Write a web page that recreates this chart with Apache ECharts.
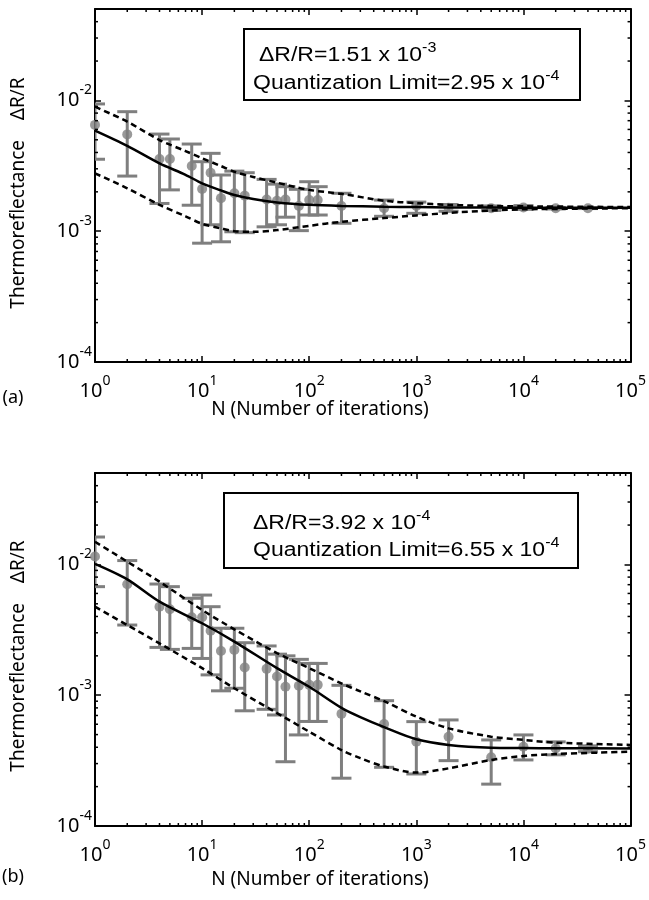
<!DOCTYPE html>
<html><head><meta charset="utf-8">
<script src="https://cdn.jsdelivr.net/npm/echarts@6/dist/echarts.min.js"></script>
<style>html,body{margin:0;padding:0;background:#fff}#c{width:649px;height:900px}</style>
</head><body><div id="c"></div>
<script>
// ---------- data ----------
const xTickExp = ['0', '1', '2', '3', '4', '5'];
const yTickExp = ['-4', '-3', '-2'];
const N = [1, 2, 4, 5, 8, 10, 12, 15, 20, 25, 40, 50, 60, 80, 100, 120, 200, 500, 1000, 2000, 5000, 10000, 20000, 40000];

const aMean = [6.5e-3, 5.5e-3, 3.57e-3, 3.57e-3, 3.15e-3, 2.10e-3, 2.80e-3, 1.79e-3, 1.95e-3, 1.87e-3, 1.75e-3, 1.71e-3, 1.75e-3, 1.56e-3, 1.73e-3, 1.73e-3, 1.56e-3, 1.50e-3, 1.56e-3, 1.51e-3, 1.50e-3, 1.52e-3, 1.50e-3, 1.50e-3];
const aHigh = [9.4e-3, 8.2e-3, 5.53e-3, 5.07e-3, 4.64e-3, 3.40e-3, 3.94e-3, 2.69e-3, 2.88e-3, 2.80e-3, 2.49e-3, 2.29e-3, 2.19e-3, 2.09e-3, 2.39e-3, 2.19e-3, 1.95e-3, 1.73e-3, 1.67e-3, 1.60e-3, 1.56e-3, 1.57e-3, 1.52e-3, 1.51e-3];
const aLow = [3.55e-3, 2.64e-3, 1.63e-3, 2.07e-3, 1.58e-3, 8.1e-4, 1.12e-3, 8.3e-4, 9.9e-4, 9.75e-4, 1.08e-3, 1.12e-3, 1.28e-3, 1.01e-3, 1.33e-3, 1.33e-3, 1.15e-3, 1.30e-3, 1.37e-3, 1.42e-3, 1.44e-3, 1.47e-3, 1.48e-3, 1.49e-3];

const bMean = [1.15e-2, 7.05e-3, 4.75e-3, 4.54e-3, 3.94e-3, 3.94e-3, 3.11e-3, 2.18e-3, 2.22e-3, 1.63e-3, 1.59e-3, 1.39e-3, 1.16e-3, 1.18e-3, 1.20e-3, 1.20e-3, 7.2e-4, 6.03e-4, 4.41e-4, 4.82e-4, 3.35e-4, 4.04e-4, 3.92e-4, 3.90e-4];
const bHigh = [1.62e-2, 1.07e-2, 7.08e-3, 6.76e-3, 5.51e-3, 5.83e-3, 4.75e-3, 3.25e-3, 3.25e-3, 2.52e-3, 2.38e-3, 2.06e-3, 2.0e-3, 1.88e-3, 1.75e-3, 1.75e-3, 1.19e-3, 9.08e-4, 6.28e-4, 6.47e-4, 4.55e-4, 4.97e-4, 4.4e-4, 4.1e-4];
const bLow = [6.76e-3, 3.44e-3, 2.32e-3, 2.24e-3, 2.28e-3, 1.91e-3, 1.43e-3, 1.08e-3, 1.13e-3, 7.6e-4, 7.8e-4, 7.06e-4, 3.1e-4, 4.97e-4, 6.3e-4, 6.3e-4, 2.32e-4, 2.81e-4, 2.5e-4, 3.16e-4, 2.09e-4, 3.2e-4, 3.5e-4, 3.7e-4];

const aCurveN = [1, 2, 4, 7, 10, 15, 20, 30, 50, 100, 200, 500, 1000, 2000, 5000, 10000, 100000];
const aFit   = [5.87e-3, 4.49e-3, 3.30e-3, 2.70e-3, 2.32e-3, 2.05e-3, 1.89e-3, 1.76e-3, 1.66e-3, 1.59e-3, 1.56e-3, 1.54e-3, 1.53e-3, 1.52e-3, 1.515e-3, 1.51e-3, 1.51e-3];
const aUpper = [8.95e-3, 6.88e-3, 4.98e-3, 4.10e-3, 3.61e-3, 3.15e-3, 2.85e-3, 2.60e-3, 2.35e-3, 2.07e-3, 1.93e-3, 1.71e-3, 1.64e-3, 1.59e-3, 1.56e-3, 1.55e-3, 1.53e-3];
const aLower = [2.77e-3, 2.13e-3, 1.59e-3, 1.30e-3, 1.14e-3, 1.05e-3, 1.00e-3, 0.99e-3, 1.02e-3, 1.10e-3, 1.18e-3, 1.26e-3, 1.32e-3, 1.38e-3, 1.44e-3, 1.47e-3, 1.50e-3];

const bCurveN = [1, 2, 4, 10, 20, 50, 100, 200, 300, 500, 1000, 2000, 5000, 10000, 20000, 100000];
const bFit   = [1.01e-2, 7.69e-3, 5.19e-3, 3.55e-3, 2.57e-3, 1.61e-3, 1.16e-3, 8.0e-4, 6.8e-4, 5.7e-4, 4.6e-4, 4.17e-4, 3.97e-4, 3.95e-4, 3.93e-4, 3.92e-4];
const bUpper = [1.49e-2, 1.05e-2, 7.38e-3, 4.48e-3, 3.19e-3, 2.10e-3, 1.61e-3, 1.23e-3, 1.07e-3, 9.0e-4, 6.86e-4, 5.58e-4, 4.82e-4, 4.55e-4, 4.34e-4, 4.17e-4];
const bLower = [4.75e-3, 3.44e-3, 2.49e-3, 1.61e-3, 1.13e-3, 7.3e-4, 5.26e-4, 3.81e-4, 3.3e-4, 2.85e-4, 2.56e-4, 2.76e-4, 3.2e-4, 3.43e-4, 3.55e-4, 3.7e-4];

const legendA = ['ΔR/R=1.51 x 10', '-3', 'Quantization Limit=2.95 x 10', '-4'];
const legendB = ['ΔR/R=3.92 x 10', '-4', 'Quantization Limit=6.55 x 10', '-4'];
const xTitle = 'N (Number of iterations)';
const yTitle = 'Thermoreflectance    ΔR/R';
const panelTags = ['(a)', '(b)'];

// ---------- layout / style ----------
const X_MIN = 1, X_MAX = 1e5, Y_MIN = 1e-4, Y_MAX = 0.05;
const GRAY = '#7f7f7f';
const TICK_FONT = 'Noto Sans';
const grids = [
  {left: 95, top: 9, width: 537, height: 353},
  {left: 95, top: 473, width: 537, height: 353}
];

const rich = {
  b: {fontSize: 20, lineHeight: 34, fontFamily: TICK_FONT, color: '#000'},
  s: {fontSize: 14, lineHeight: 14, verticalAlign: 'top', fontFamily: TICK_FONT, color: '#000'}
};
function fmtX(v) {
  const e = Math.log10(v), r = Math.round(e);
  if (Math.abs(e - r) > 0.01) return '';
  if (r < 0 || r >= xTickExp.length) return '';
  return '{b|10}{s|' + xTickExp[r] + '}';
}
function fmtY(v) {
  const e = Math.log10(v), r = Math.round(e);
  if (Math.abs(e - r) > 0.01) return '';
  const idx = r + 4;
  if (idx < 0 || idx >= yTickExp.length) return '';
  return '{b|10}{s|' + yTickExp[idx] + '}';
}

const axisLineStyle = {show: true, lineStyle: {color: '#000', width: 2}};
const tickStyle = {show: true, inside: true, length: 6, lineStyle: {color: '#000', width: 1.5}};

const xAxes = [], yAxes = [];
grids.forEach((g, gi) => {
  xAxes.push({type: 'log', logBase: 10, gridIndex: gi, min: X_MIN, max: X_MAX, position: 'bottom',
    axisLine: axisLineStyle, axisTick: tickStyle, splitLine: {show: false},
    axisLabel: {formatter: fmtX, rich: rich, margin: 12, showMaxLabel: true}});
  xAxes.push({type: 'log', logBase: 10, gridIndex: gi, min: X_MIN, max: X_MAX, position: 'top',
    axisLine: axisLineStyle, axisTick: tickStyle, splitLine: {show: false}, axisLabel: {show: false}});
  yAxes.push({type: 'log', logBase: 10, gridIndex: gi, min: Y_MIN, max: Y_MAX, position: 'left',
    axisLine: axisLineStyle, axisTick: tickStyle, splitLine: {show: false},
    axisLabel: {formatter: fmtY, rich: rich, margin: 3, showMaxLabel: false}});
  yAxes.push({type: 'log', logBase: 10, gridIndex: gi, min: Y_MIN, max: Y_MAX, position: 'right',
    axisLine: axisLineStyle, axisTick: tickStyle, splitLine: {show: false}, axisLabel: {show: false}});
});

// minor tick values (2..9 x 10^k)
const xMinor = [], yMinor = [];
for (let k = 0; k < 5; k++) for (let m = 2; m <= 9; m++) xMinor.push([m * Math.pow(10, k), Y_MIN]);
for (let k = -4; k < -1; k++) for (let m = 2; m <= 9; m++) { const v = m * Math.pow(10, k); if (v < Y_MAX) yMinor.push([X_MIN, v]); }

function errorBarSeries(gi, lo, hi) {
  return {
    type: 'custom', xAxisIndex: gi * 2, yAxisIndex: gi * 2, clip: true, z: 3,
    data: N.map((n, i) => [n, lo[i], hi[i]]),
    encode: {x: 0, y: [1, 2]},
    renderItem: (params, api) => {
      const pl = api.coord([api.value(0), api.value(1)]);
      const ph = api.coord([api.value(0), api.value(2)]);
      const st = {stroke: GRAY, lineWidth: 3};
      const w = 10;
      return {type: 'group', children: [
        {type: 'line', shape: {x1: pl[0], y1: pl[1], x2: ph[0], y2: ph[1]}, style: st},
        {type: 'line', shape: {x1: pl[0] - w, y1: pl[1], x2: pl[0] + w, y2: pl[1]}, style: st},
        {type: 'line', shape: {x1: ph[0] - w, y1: ph[1], x2: ph[0] + w, y2: ph[1]}, style: st}
      ]};
    }
  };
}
function dotSeries(gi, mean) {
  return {type: 'scatter', xAxisIndex: gi * 2, yAxisIndex: gi * 2, symbol: 'circle', symbolSize: 10, z: 4,
    itemStyle: {color: GRAY}, data: N.map((n, i) => [n, mean[i]])};
}
function curveSeries(gi, xs, ys, dashed) {
  return {type: 'line', xAxisIndex: gi * 2, yAxisIndex: gi * 2, smooth: 0.3,
    showSymbol: false, z: 5, clip: true,
    lineStyle: {color: '#000', width: 2.5, type: dashed ? [6, 4] : 'solid'},
    data: xs.map((n, i) => [n, ys[i]])};
}
function minorTickSeries(gi) {
  const st = {stroke: '#000', lineWidth: 1.5};
  return [
    {type: 'custom', xAxisIndex: gi * 2, yAxisIndex: gi * 2, z: 6, clip: false, silent: true,
      data: xMinor, encode: {x: 0, y: 1},
      renderItem: (p, api) => {
        const a = api.coord([api.value(0), Y_MIN]), b = api.coord([api.value(0), Y_MAX]);
        return {type: 'group', children: [
          {type: 'line', shape: {x1: a[0], y1: a[1], x2: a[0], y2: a[1] - 3}, style: st},
          {type: 'line', shape: {x1: b[0], y1: b[1], x2: b[0], y2: b[1] + 3}, style: st}]};
      }},
    {type: 'custom', xAxisIndex: gi * 2, yAxisIndex: gi * 2, z: 6, clip: false, silent: true,
      data: yMinor, encode: {x: 0, y: 1},
      renderItem: (p, api) => {
        const a = api.coord([X_MIN, api.value(1)]), b = api.coord([X_MAX, api.value(1)]);
        return {type: 'group', children: [
          {type: 'line', shape: {x1: a[0], y1: a[1], x2: a[0] + 3, y2: a[1]}, style: st},
          {type: 'line', shape: {x1: b[0], y1: b[1], x2: b[0] - 3, y2: b[1]}, style: st}]};
      }}
  ];
}

const series = [];
[[aMean, aLow, aHigh, aCurveN, aFit, aUpper, aLower], [bMean, bLow, bHigh, bCurveN, bFit, bUpper, bLower]].forEach((d, gi) => {
  series.push(errorBarSeries(gi, d[1], d[2]));
  series.push(dotSeries(gi, d[0]));
  series.push(curveSeries(gi, d[3], d[4], false));
  series.push(curveSeries(gi, d[3], d[5], true));
  series.push(curveSeries(gi, d[3], d[6], true));
  minorTickSeries(gi).forEach(s => series.push(s));
});

const legRich = {
  a: {fontSize: 20, lineHeight: 28, fontFamily: 'Liberation Sans', color: '#000'},
  s: {fontSize: 14, lineHeight: 14, verticalAlign: 'top', fontFamily: 'Liberation Sans', color: '#000'}
};
function legendGroup(lg, box, l1x, l2x, l1y, l2y) {
  return [
    {type: 'rect', shape: box, style: {fill: '#fff', stroke: '#000', lineWidth: 2}, z: 10},
    {type: 'text', x: l1x, y: l1y, scaleX: 1.15, z: 11,
      style: {text: '{a|' + lg[0] + '}{s|' + lg[1] + '}', rich: legRich, verticalAlign: 'middle', align: 'left'}},
    {type: 'text', x: l2x, y: l2y, scaleX: 1.15, z: 11,
      style: {text: '{a|' + lg[2] + '}{s|' + lg[3] + '}', rich: legRich, verticalAlign: 'middle', align: 'left'}}
  ];
}
const titleFont = '19px "Noto Sans"';
const graphics = [].concat(
  legendGroup(legendA, {x: 244, y: 29, width: 336, height: 71}, 259, 253, 55, 83),
  legendGroup(legendB, {x: 224, y: 493, width: 354, height: 75}, 253, 253, 523, 550),
  [
    {type: 'text', x: 320, y: 410, style: {text: xTitle, font: titleFont, fill: '#000', align: 'center', verticalAlign: 'middle'}},
    {type: 'text', x: 320, y: 880, style: {text: xTitle, font: titleFont, fill: '#000', align: 'center', verticalAlign: 'middle'}},
    {type: 'text', x: 19, y: 193, rotation: Math.PI / 2, style: {text: yTitle, font: titleFont, fill: '#000', align: 'center', verticalAlign: 'middle'}},
    {type: 'text', x: 19, y: 656, rotation: Math.PI / 2, style: {text: yTitle, font: titleFont, fill: '#000', align: 'center', verticalAlign: 'middle'}},
    {type: 'text', x: 13, y: 398, style: {text: panelTags[0], font: '18px "Noto Sans"', fill: '#000', align: 'center', verticalAlign: 'middle'}},
    {type: 'text', x: 13, y: 877, style: {text: panelTags[1], font: '18px "Noto Sans"', fill: '#000', align: 'center', verticalAlign: 'middle'}}
  ]
);

const chart = echarts.init(document.getElementById('c'), null, {renderer: 'canvas'});
chart.setOption({
  animation: false,
  backgroundColor: '#fff',
  grid: grids.map(g => Object.assign({containLabel: false}, g)),
  xAxis: xAxes,
  yAxis: yAxes,
  series: series,
  graphic: graphics
});
</script></body></html>
